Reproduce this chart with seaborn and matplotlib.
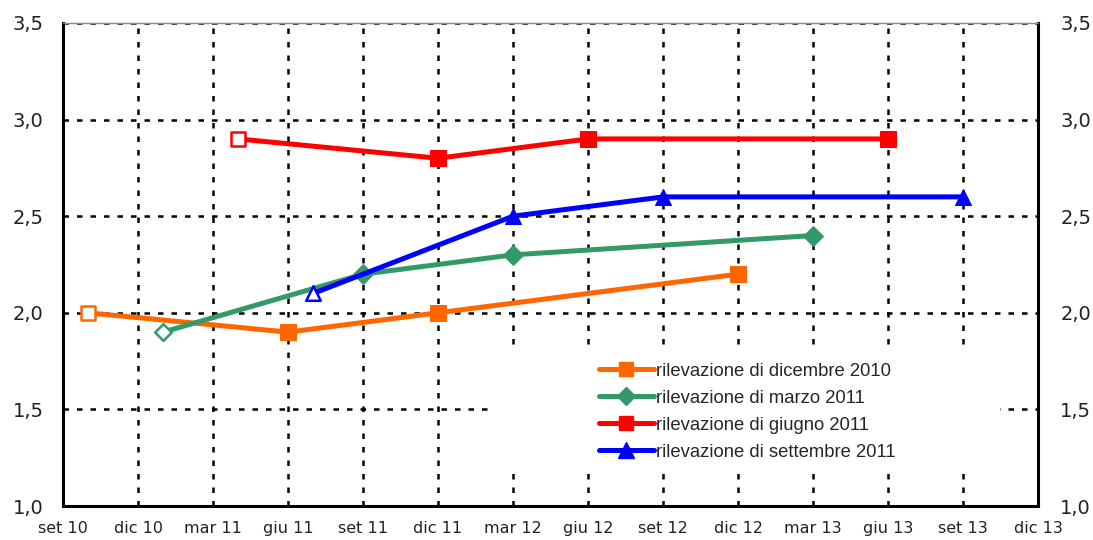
import pandas as pd
import matplotlib.pyplot as plt
import seaborn as sns
from matplotlib.lines import Line2D
from matplotlib.patches import Rectangle

# --- DATI ---
# asse x: trimestri da set 10 a dic 13
etichette_x = ['set 10', 'dic 10', 'mar 11', 'giu 11', 'set 11', 'dic 11', 'mar 12',
               'giu 12', 'set 12', 'dic 12', 'mar 13', 'giu 13', 'set 13', 'dic 13']
etichette_y = ['1,0', '1,5', '2,0', '2,5', '3,0', '3,5']

# date (mese) e valori di ogni rilevazione; il primo punto e' il dato osservato (vuoto)
date_dic10 = ['2010-10', '2011-06', '2011-12', '2012-12']
val_dic10 = [2.0, 1.9, 2.0, 2.2]
date_mar11 = ['2011-01', '2011-09', '2012-03', '2013-03']
val_mar11 = [1.9, 2.2, 2.3, 2.4]
date_giu11 = ['2011-04', '2011-12', '2012-06', '2013-06']
val_giu11 = [2.9, 2.8, 2.9, 2.9]
date_set11 = ['2011-07', '2012-03', '2012-09', '2013-09']
val_set11 = [2.1, 2.5, 2.6, 2.6]

serie = [
    ('rilevazione di dicembre 2010', date_dic10, val_dic10, '#FF6600', 's', 11),
    ('rilevazione di marzo 2011', date_mar11, val_mar11, '#339966', 'D', 10),
    ('rilevazione di giugno 2011', date_giu11, val_giu11, '#FF0000', 's', 11),
    ('rilevazione di settembre 2011', date_set11, val_set11, '#0000FF', '^', 12),
]

inizio = pd.Period('2010-09', freq='M')


def mesi(date):
    return [(pd.Period(d, freq='M') - inizio).n for d in date]


# --- GRAFICO ---
sns.set_theme(style="white")
plt.rcParams['font.family'] = ['DejaVu Sans']

fig = plt.figure(figsize=(10.93, 5.40), dpi=100)
ax = fig.add_axes([63 / 1093, 34 / 540, 975 / 1093, 483 / 540])

griglia = dict(color='black', linestyle=(0, (2.2, 3.2)), linewidth=1.8)
ax.set_xlim(0, 39)
ax.set_ylim(1.0, 3.5)
ax.set_xticks(range(0, 40, 3))
ax.set_xticklabels(etichette_x)
ax.set_yticks([1.0, 1.5, 2.0, 2.5, 3.0, 3.5])
ax.set_yticklabels(etichette_y)
ax.grid(True, **griglia)
ax.set_axisbelow(True)

# riquadro bianco dietro la legenda (copre la griglia)
ax.add_patch(Rectangle((0.438, 0.082), 0.523, 0.236, transform=ax.transAxes,
                       facecolor='white', edgecolor='none', zorder=1))

handles = []
for nome, date, valori, colore, marker, ms in serie:
    df = pd.DataFrame({'mese': mesi(date), 'valore': valori})
    sns.lineplot(data=df, x='mese', y='valore', ax=ax, color=colore, linewidth=3.6,
                 marker=marker, markersize=ms, markeredgecolor=colore,
                 markevery=[1, 2, 3], zorder=3)
    sns.scatterplot(data=df.iloc[:1], x='mese', y='valore', ax=ax, marker=marker,
                    s=(ms - 1.5) ** 2, facecolor='white', edgecolor=colore,
                    linewidth=1.8, zorder=4)
    handles.append(Line2D([], [], color=colore, linewidth=3.6, marker=marker,
                          markersize=ms - 1, markeredgecolor=colore, label=nome))

ax.set_xlabel('')
ax.set_ylabel('')
ax.tick_params(axis='both', length=0, colors='#222222')
ax.tick_params(axis='y', labelsize=14, pad=14)
ax.tick_params(axis='x', labelsize=11.5, pad=11)

for lato in ['left', 'bottom', 'right']:
    ax.spines[lato].set_color('black')
    ax.spines[lato].set_linewidth(2.2)
ax.spines['top'].set_color('#888888')
ax.spines['top'].set_linewidth(1)

# asse destro con le stesse etichette
ax2 = ax.twinx()
ax2.set_ylim(1.0, 3.5)
ax2.set_yticks([1.0, 1.5, 2.0, 2.5, 3.0, 3.5])
ax2.set_yticklabels(etichette_y)
ax2.tick_params(axis='y', length=0, labelsize=14, pad=16, colors='#222222')
ax2.grid(False)
for s in ax2.spines.values():
    s.set_visible(False)

ax.legend(handles=handles, loc='upper left', bbox_to_anchor=(0.540, 0.316),
          frameon=False, borderpad=0, handlelength=3.0, handletextpad=0.1,
          labelspacing=0.54, prop={'family': 'Liberation Sans', 'size': 13.3})

fig.savefig('out.png', dpi=100)
